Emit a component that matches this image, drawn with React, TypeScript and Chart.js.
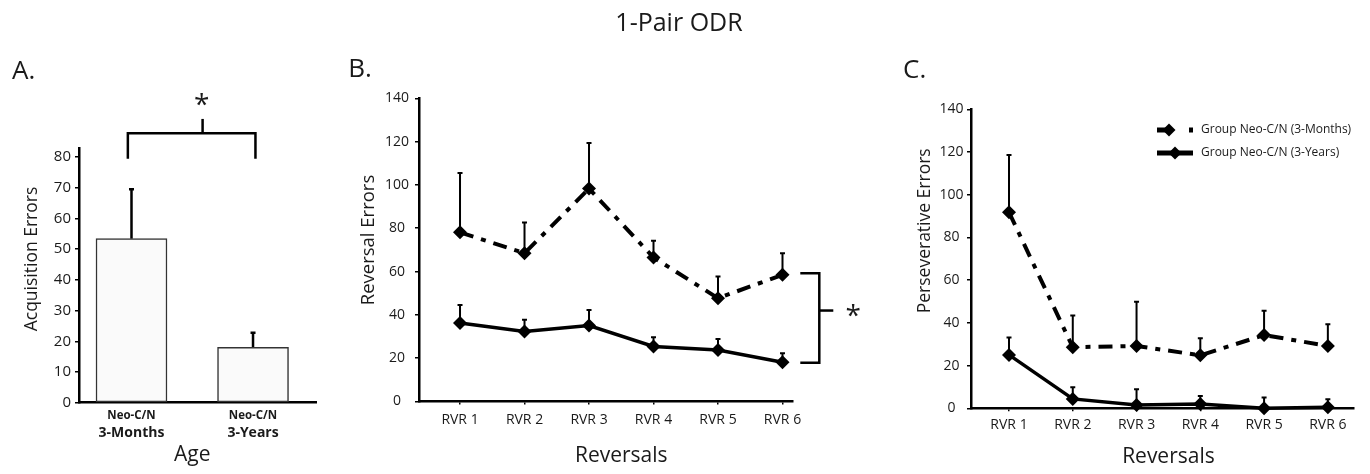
import React, { useEffect, useRef } from "react";
import { Chart, registerables } from "chart.js";

Chart.register(...registerables);

const FONT = "'Open Sans', 'Noto Sans', sans-serif";
const INK = "#1a1a1a";

// ---------- text ----------
const figureTitle = "1-Pair ODR";
const panelLetters = ["A.", "B.", "C."];
const axisTitles = {
  acquisition: "Acquisition Errors",
  reversal: "Reversal Errors",
  perseverative: "Perseverative Errors",
  age: "Age",
  reversals: "Reversals",
};

// ---------- Panel A data ----------
const ageGroupLabels = ["Neo-C/N", "Neo-C/N"];
const ageLabels = ["3-Months", "3-Years"];
const acquisitionErrors = [53.4, 18.0];
const acquisitionSem = [16.1, 4.8];
const acquisitionTicks = [0, 10, 20, 30, 40, 50, 60, 70, 80];

// ---------- Panels B & C data ----------
const reversalLabels = ["RVR 1", "RVR 2", "RVR 3", "RVR 4", "RVR 5", "RVR 6"];
const groupNames = ["Group Neo-C/N (3-Months)", "Group Neo-C/N (3-Years)"];
const reversalMonths = [78.1, 68.5, 98.3, 66.5, 47.7, 58.5];
const reversalMonthsSem = [27.4, 14.2, 21.1, 7.7, 10.0, 10.0];
const reversalYears = [36.2, 32.3, 35.1, 25.4, 23.8, 18.1];
const reversalYearsSem = [8.4, 5.4, 7.2, 4.3, 5.1, 4.2];
const perseverativeMonths = [91.8, 28.6, 29.2, 24.8, 34.3, 29.2];
const perseverativeMonthsSem = [26.8, 14.8, 20.7, 8.0, 11.4, 10.1];
const perseverativeYears = [25.0, 4.4, 1.5, 2.0, 0.0, 0.5];
const perseverativeYearsSem = [8.2, 5.4, 7.4, 3.8, 5.1, 3.7];
const errorTicks = [0, 20, 40, 60, 80, 100, 120, 140];

// ---------- layout helpers ----------
const CW = 1370;
const CH = 474;
const YW = 40;
const XH = 40;
type Area = { l: number; t: number; r: number; b: number };
function layoutFor(a: Area) {
  return { padding: { left: a.l - YW, top: a.t, right: CW - a.r, bottom: CH - a.b - XH } };
}
const fixY = (s: any) => { s.width = YW; };
const fixX = (s: any) => { s.height = XH; };

const DASH = [14, 8, 5, 8];

function txt(
  ctx: CanvasRenderingContext2D, s: string, x: number, y: number, font: string,
  align: CanvasTextAlign = "center", baseline: CanvasTextBaseline = "middle", rot = 0
) {
  ctx.save();
  ctx.translate(x, y);
  ctx.rotate(rot);
  ctx.font = font;
  ctx.fillStyle = INK;
  ctx.textAlign = align;
  ctx.textBaseline = baseline;
  ctx.fillText(s, 0, 0);
  ctx.restore();
}

function star(ctx: CanvasRenderingContext2D, x: number, y: number, size: number) {
  ctx.save();
  ctx.font = `${size}px ${FONT}`;
  const m = ctx.measureText("*");
  const base = y + (m.actualBoundingBoxAscent - m.actualBoundingBoxDescent) / 2;
  ctx.textAlign = "center";
  ctx.textBaseline = "alphabetic";
  ctx.fillStyle = INK;
  ctx.fillText("*", x, base);
  ctx.restore();
}

function path(ctx: CanvasRenderingContext2D, pts: number[][], width: number) {
  ctx.save();
  ctx.strokeStyle = "#000";
  ctx.lineWidth = width;
  ctx.setLineDash([]);
  ctx.lineJoin = "miter";
  ctx.beginPath();
  pts.forEach(([x, y], i) => (i ? ctx.lineTo(x, y) : ctx.moveTo(x, y)));
  ctx.stroke();
  ctx.restore();
}

const errorBarPlugin = {
  id: "semBars",
  beforeDatasetsDraw(chart: any) {
    const ctx = chart.ctx as CanvasRenderingContext2D;
    const y = chart.scales.y;
    chart.data.datasets.forEach((ds: any, i: number) => {
      if (!ds.sem) return;
      const meta = chart.getDatasetMeta(i);
      meta.data.forEach((el: any, j: number) => {
        const v = ds.data[j].y;
        const top = y.getPixelForValue(v + ds.sem[j]);
        ctx.save();
        ctx.strokeStyle = "#000";
        ctx.lineWidth = ds.errorWidth || 2;
        ctx.setLineDash([]);
        ctx.beginPath();
        ctx.moveTo(el.x, el.y);
        ctx.lineTo(el.x, top);
        ctx.moveTo(el.x - 2.5, top);
        ctx.lineTo(el.x + 2.5, top);
        ctx.stroke();
        ctx.restore();
      });
    });
  },
};

const yGrid = { display: true, drawOnChartArea: false, drawTicks: true, tickLength: 4, color: "#000", lineWidth: 1.5 };
const xGrid = { display: true, drawOnChartArea: false, drawTicks: true, tickLength: 3, color: "#000", lineWidth: 1.5 };
const axisBorder = { display: true, color: "#000", width: 2.5 };
const basePlugins = { legend: { display: false }, tooltip: { enabled: false }, title: { display: false } };

function lineSeries(label: string, values: number[], sem: number[], dashed: boolean) {
  return {
    label,
    data: values.map((v, i) => ({ x: i + 1, y: v })),
    sem,
    borderColor: "#000",
    borderWidth: dashed ? 4 : 3.5,
    borderDash: dashed ? DASH : [],
    pointStyle: "rectRot",
    pointRadius: 7,
    pointBackgroundColor: "#000",
    pointBorderColor: "#000",
    pointBorderWidth: 0,
    tension: 0,
    clip: false,
    errorWidth: 2,
  };
}

function reversalX(min: number, max: number, size: number, padding: number) {
  return {
    type: "linear",
    min,
    max,
    offset: false,
    afterFit: fixX,
    afterBuildTicks: (s: any) => { s.ticks = reversalLabels.map((_, i) => ({ value: i + 1 })); },
    ticks: {
      autoSkip: false,
      maxRotation: 0,
      callback: (v: any) => reversalLabels[Math.round(v) - 1] ?? "",
      font: { family: FONT, size },
      color: INK,
      padding,
    },
    grid: xGrid,
    border: axisBorder,
  };
}

function errorY(size: number, padding: number) {
  return {
    min: 0,
    max: 140,
    afterFit: fixY,
    afterBuildTicks: (s: any) => { s.ticks = errorTicks.map((v) => ({ value: v })); },
    ticks: { font: { family: FONT, size }, color: INK, padding, crossAlign: "center" },
    grid: yGrid,
    border: axisBorder,
  };
}

// ---------- Panel A ----------
const areaA: Area = { l: 79, t: 147.8, r: 316.7, b: 402.7 };
function makeA(canvas: HTMLCanvasElement) {
  const decor = {
    id: "decorA",
    afterDraw(chart: any) {
      const ctx = chart.ctx as CanvasRenderingContext2D;
      const x = chart.scales.x;
      const y = chart.scales.y;
      txt(ctx, figureTitle, 679, 30.7, `25px ${FONT}`, "center", "alphabetic");
      txt(ctx, panelLetters[0], 12, 79.3, `26px ${FONT}`, "left", "alphabetic");
      txt(ctx, axisTitles.acquisition, 32.5, 259, `17.5px ${FONT}`, "center", "middle", -Math.PI / 2);
      ageLabels.forEach((lab, i) => {
        const px = x.getPixelForValue(i + 1);
        txt(ctx, ageGroupLabels[i], px, 416, `bold 11.5px ${FONT}`);
        txt(ctx, lab, px, 433, `bold 14px ${FONT}`);
      });
      const mid = (x.getPixelForValue(1) + x.getPixelForValue(ageLabels.length)) / 2;
      txt(ctx, axisTitles.age, mid, 455, `21px ${FONT}`);
      // significance bracket
      const xl = x.getPixelForValue(0.97);
      const xr = x.getPixelForValue(2.02);
      const xm = x.getPixelForValue(1.585);
      const yb = y.getPixelForValue(87.7);
      const yl = y.getPixelForValue(79.4);
      path(ctx, [[xl, yl], [xl, yb], [xr, yb], [xr, yl]], 2.5);
      path(ctx, [[xm, yb], [xm, y.getPixelForValue(92.4)]], 2.5);
      star(ctx, x.getPixelForValue(1.577), y.getPixelForValue(98.6), 28);
    },
  };
  return new Chart(canvas, {
    type: "bar",
    data: {
      datasets: [
        {
          label: axisTitles.acquisition,
          data: acquisitionErrors.map((v, i) => ({ x: i + 1, y: v })),
          sem: acquisitionSem,
          errorWidth: 2.5,
          backgroundColor: "#fafafa",
          borderColor: "#333",
          borderWidth: 1.5,
          borderSkipped: false,
          barThickness: 71,
        } as any,
      ],
    },
    options: {
      animation: false,
      responsive: false,
      layout: layoutFor(areaA),
      plugins: basePlugins,
      scales: {
        x: {
          type: "linear",
          min: 0.568,
          max: 2.524,
          offset: false,
          afterFit: fixX,
          ticks: { display: false },
          grid: { display: false },
          border: axisBorder,
        },
        y: {
          min: 0,
          max: 83,
          afterFit: fixY,
          afterBuildTicks: (s: any) => { s.ticks = acquisitionTicks.map((v) => ({ value: v })); },
          ticks: { font: { family: FONT, size: 15 }, color: INK, padding: 4 },
          grid: yGrid,
          border: axisBorder,
        },
      },
    } as any,
    plugins: [errorBarPlugin, decor],
  });
}

// ---------- Panel B ----------
const areaB: Area = { l: 419, t: 98.3, r: 792.3, b: 401.5 };
const bracketMidB = 42;
function makeB(canvas: HTMLCanvasElement) {
  const decor = {
    id: "decorB",
    afterDraw(chart: any) {
      const ctx = chart.ctx as CanvasRenderingContext2D;
      const x = chart.scales.x;
      const y = chart.scales.y;
      const right = chart.chartArea.right;
      txt(ctx, panelLetters[1], 348.3, 77.3, `26px ${FONT}`, "left", "alphabetic");
      txt(ctx, axisTitles.reversal, 368.6, 240, `18.5px ${FONT}`, "center", "middle", -Math.PI / 2);
      const mid = (x.getPixelForValue(1) + x.getPixelForValue(reversalLabels.length)) / 2;
      txt(ctx, axisTitles.reversals, mid, 456, `21px ${FONT}`);
      const n = reversalLabels.length - 1;
      const yt = y.getPixelForValue(reversalMonths[n]) - 1.5;
      const yb = y.getPixelForValue(reversalYears[n]) + 0.5;
      const ym = y.getPixelForValue(bracketMidB);
      path(ctx, [[right + 8, yt], [right + 27, yt], [right + 27, yb], [right + 8, yb]], 2.5);
      path(ctx, [[right + 27, ym], [right + 41, ym]], 2.5);
      star(ctx, right + 61, ym, 28);
    },
  };
  return new Chart(canvas, {
    type: "line",
    data: {
      datasets: [
        lineSeries(groupNames[0], reversalMonths, reversalMonthsSem, true),
        lineSeries(groupNames[1], reversalYears, reversalYearsSem, false),
      ] as any,
    },
    options: {
      animation: false,
      responsive: false,
      layout: layoutFor(areaB),
      plugins: basePlugins,
      scales: { x: reversalX(0.364, 6.152, 14, 7.5), y: errorY(14, 6) },
    } as any,
    plugins: [errorBarPlugin, decor],
  });
}

// ---------- Panel C ----------
const areaC: Area = { l: 971, t: 109.3, r: 1354, b: 408.3 };
function makeC(canvas: HTMLCanvasElement) {
  const decor = {
    id: "decorC",
    afterDraw(chart: any) {
      const ctx = chart.ctx as CanvasRenderingContext2D;
      const x = chart.scales.x;
      txt(ctx, panelLetters[2], 903, 78.3, `26px ${FONT}`, "left", "alphabetic");
      txt(ctx, axisTitles.perseverative, 925, 230.8, `17.5px ${FONT}`, "center", "middle", -Math.PI / 2);
      const mid = (x.getPixelForValue(1) + x.getPixelForValue(reversalLabels.length)) / 2;
      txt(ctx, axisTitles.reversals, mid, 456.7, `21px ${FONT}`);
      // legend
      const rows = [130, 153];
      chart.data.datasets.forEach((ds: any, i: number) => {
        const ly = rows[i];
        ctx.save();
        ctx.strokeStyle = "#000";
        ctx.lineWidth = 5;
        ctx.setLineDash(ds.borderDash && ds.borderDash.length ? [14, 18, 4, 100] : []);
        ctx.beginPath();
        ctx.moveTo(1157, ly);
        ctx.lineTo(1193, ly);
        ctx.stroke();
        ctx.setLineDash([]);
        const cx = ds.borderDash && ds.borderDash.length ? 1169 : 1175;
        ctx.fillStyle = "#000";
        ctx.beginPath();
        ctx.moveTo(cx - 6.5, ly);
        ctx.lineTo(cx, ly - 6.5);
        ctx.lineTo(cx + 6.5, ly);
        ctx.lineTo(cx, ly + 6.5);
        ctx.closePath();
        ctx.fill();
        ctx.restore();
        txt(ctx, ds.label, 1201, ly, `12px ${FONT}`, "left", "middle");
      });
    },
  };
  return new Chart(canvas, {
    type: "line",
    data: {
      datasets: [
        lineSeries(groupNames[0], perseverativeMonths, perseverativeMonthsSem, true),
        lineSeries(groupNames[1], perseverativeYears, perseverativeYearsSem, false),
      ] as any,
    },
    options: {
      animation: false,
      responsive: false,
      layout: layoutFor(areaC),
      plugins: basePlugins,
      scales: { x: reversalX(0.404, 6.41, 14, 5.5), y: errorY(14, 3.5) },
    } as any,
    plugins: [errorBarPlugin, decor],
  });
}

function Panel({ make }: { make: (c: HTMLCanvasElement) => Chart }) {
  const ref = useRef<HTMLCanvasElement>(null);
  useEffect(() => {
    if (!ref.current) return;
    const chart = make(ref.current);
    return () => chart.destroy();
  }, [make]);
  return (
    <canvas
      ref={ref}
      width={CW}
      height={CH}
      style={{ position: "absolute", left: 0, top: 0, width: CW, height: CH }}
    />
  );
}

export default function App() {
  return (
    <div style={{ position: "fixed", left: 0, top: 0, width: CW, height: CH, background: "#fff", overflow: "hidden" }}>
      <Panel make={makeA} />
      <Panel make={makeB} />
      <Panel make={makeC} />
    </div>
  );
}
